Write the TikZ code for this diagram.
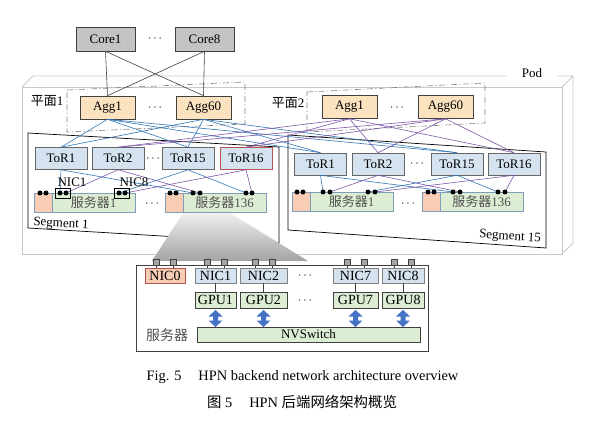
\documentclass[tikz,border=0pt]{standalone}
\usepackage{fontspec}
\setmainfont{Liberation Serif}
\newfontfamily\cjk{Noto Sans CJK SC}
\newcommand\nfs{\fontsize{13}{15}\selectfont}
\newcommand\dfs{\fontsize{14}{16}\selectfont}
\newcommand\cfs{\fontsize{14.4}{16}\selectfont}
\definecolor{corefill}{HTML}{C4C4C4}
\definecolor{aggfill}{HTML}{FBE3BF}
\definecolor{torfill}{HTML}{D5E3F0}
\definecolor{greenfill}{HTML}{DDEDD3}
\definecolor{orangefill}{HTML}{F8CDB4}
\definecolor{srvborder}{HTML}{7F9DB9}
\definecolor{blueline}{HTML}{2E75B6}
\definecolor{purpleline}{HTML}{7E57A8}
\definecolor{darkline}{HTML}{404040}
\definecolor{podline}{HTML}{C8C8C8}
\definecolor{redborder}{HTML}{B85450}
\definecolor{arrowblue}{HTML}{4472C4}
\definecolor{srvtext}{HTML}{505050}
\tikzset{
  box/.style={draw=darkline, line width=0.6pt, inner sep=0pt, font=\nfs},
  core/.style={box, fill=corefill, minimum width=59pt, minimum height=24pt},
  agg/.style={box, fill=aggfill, minimum width=55pt, minimum height=23pt},
  tor/.style={box, draw=darkline!80, fill=torfill, minimum width=52pt, minimum height=22pt},
  srvo/.style={draw=srvborder, line width=0.5pt, fill=orangefill, inner sep=0pt, minimum width=18pt, minimum height=19pt},
  srvg/.style={draw=srvborder, line width=0.5pt, fill=greenfill, inner sep=0pt, minimum width=83pt, minimum height=19pt, font=\nfs, text=srvtext},
  portdot/.style={circle, fill=black, inner sep=0pt, minimum size=5pt},
  niclbl/.style={draw=black, line width=0.6pt, inner sep=0pt, minimum width=15pt, minimum height=10pt},
  bl/.style={draw=blueline, line width=0.6pt},
  pl/.style={draw=purpleline, line width=0.6pt},
  dl/.style={draw=darkline, line width=0.6pt},
  pod/.style={draw=podline, line width=0.8pt},
  planebox/.style={draw=gray, line width=0.6pt, dash pattern=on 6pt off 2.5pt on 1pt off 2.5pt},
  segline/.style={draw=black, line width=0.7pt},
  lbl/.style={inner sep=0pt, font=\nfs},
  dnic/.style={draw=gray, line width=0.5pt, fill=torfill, inner sep=0pt, minimum height=15pt, font=\dfs},
  dgpu/.style={draw=darkline, line width=0.5pt, fill=greenfill, inner sep=0pt, minimum height=16pt, font=\dfs},
  portsq/.style={draw=darkline, line width=0.5pt, fill=gray!70, inner sep=0pt, minimum size=6pt},
}
\begin{document}
\begin{tikzpicture}[x=1pt, y=-1pt]
\useasboundingbox (0,0) rectangle (600,425);
% Pod 3D box
\draw[pod] (22,87) rectangle (562,254);
\draw[pod] (22,87) -- (33,76) -- (507,76);
\draw[pod] (557,76) -- (573,76) -- (562,87);
\draw[pod] (573,76) -- (573,243) -- (562,254);
\node[lbl] (podlbl) at (532,73) {Pod};
% planes
\draw[planebox] (67,90) -- (245,82) -- (245,124) -- (67,132) -- cycle;
\draw[planebox] (307,92) -- (485,83) -- (485,123) -- (307,132) -- cycle;
\node[lbl] (pl1) at (47,101) {{\cjk 平面}1};
\node[lbl] (pl2) at (288,103) {{\cjk 平面}2};
% segments
\draw[segline] (28,133) -- (279,147) -- (279,243) -- (28,228) -- cycle;
\draw[segline] (288,135) -- (546,152) -- (546,248) -- (288,230) -- cycle;
\node[lbl, rotate=-3.4] (seg1) at (61,224) {Segment 1};
\node[lbl, rotate=-3.8] (seg15) at (510,237) {Segment 15};
% core
\node[core] (core1) at (105.5,39) {Core1};
\node[core] (core8) at (204.5,39) {Core8};
\node[lbl] (cdots) at (155,39) {$\cdots$};
% aggs
\node[agg] (a1a) at (107.5,107.5) {Agg1};
\node[agg] (a60a) at (203.5,107.5) {Agg60};
\node[lbl] (adots1) at (155,108) {$\cdots$};
\node[agg] (a1b) at (349.5,107) {Agg1};
\node[agg] (a60b) at (445.5,107) {Agg60};
\node[lbl] (adots2) at (397,108) {$\cdots$};
% tors
\node[tor] (t1a) at (61,158.5) {ToR1};
\node[tor] (t2a) at (118,158.5) {ToR2};
\node[tor] (t15a) at (188,158.5) {ToR15};
\node[tor, draw=redborder] (t16a) at (246,158.5) {ToR16};
\node[lbl] (tdots1) at (153,159) {$\cdots$};
\node[tor] (t1b) at (320.5,164) {ToR1};
\node[tor] (t2b) at (378,164) {ToR2};
\node[tor] (t15b) at (457,164) {ToR15};
\node[tor] (t16b) at (514,164) {ToR16};
\node[lbl] (tdots2) at (417,164) {$\cdots$};
% servers
\node[srvo] (s1ao) at (43,202.5) {};
\node[srvg] (s1ag) at (93.5,202.5) {{\cjk 服务器}1};
\node[srvo] (s136ao) at (174,202.5) {};
\node[srvg] (s136ag) at (224.5,202.5) {{\cjk 服务器}136};
\node[lbl] (sdots1) at (152,204) {$\cdots$};
\node[srvo] (s1bo) at (301,202) {};
\node[srvg] (s1bg) at (351.5,202) {{\cjk 服务器}1};
\node[srvo] (s136bo) at (431,202) {};
\node[srvg] (s136bg) at (481.5,202) {{\cjk 服务器}136};
\node[lbl] (sdots2) at (408,204) {$\cdots$};
% port coordinates
\foreach \n/\x in {1/40,2/46,3/60,4/66,5/119,6/125,7/170,8/176,9/193,10/200,11/246,12/252}
  \coordinate (pa\n) at (\x,193);
\foreach \n/\x in {1/297,2/303,3/323,4/330,5/368,6/375,7/428,8/434,9/453,10/460,11/498,12/505}
  \coordinate (pb\n) at (\x,192);
% core-agg
\draw[dl] (core1.south) -- (a1a.north);
\draw[dl] (core1.south) -- (a60a.north);
\draw[dl] (core8.south) -- (a60a.north);
\draw[dl] (core8.south) -- (a1a.north);
% agg-tor
\foreach \a in {a1a,a60a}
  \foreach \t in {t1a,t15a,t1b,t15b}
    \draw[bl] (\a.south) -- (\t.north);
\foreach \a in {a1b,a60b}
  \foreach \t in {t2a,t16a,t2b,t16b}
    \draw[pl] (\a.south) -- (\t.north);
% tor-server
\draw[bl] (t1a.south) -- (pa3);  \draw[bl] (t1a.south) -- (pa9);
\draw[pl] (t2a.south) -- (pa4);  \draw[pl] (t2a.south) -- (pa10);
\draw[bl] (t15a.south) -- (pa5); \draw[bl] (t15a.south) -- (pa11);
\draw[pl] (t16a.south) -- (pa6); \draw[pl] (t16a.south) -- (pa12);
\draw[bl] (t1b.south) -- (pb3);  \draw[bl] (t1b.south) -- (pb9);
\draw[pl] (t2b.south) -- (pb4);  \draw[pl] (t2b.south) -- (pb10);
\draw[bl] (t15b.south) -- (pb5); \draw[bl] (t15b.south) -- (pb11);
\draw[pl] (t16b.south) -- (pb6); \draw[pl] (t16b.south) -- (pb12);
% nic boxes seg 1
\node[niclbl] (nic1a) at (63,193) {};
\node[niclbl] (nic8a) at (122,193) {};
\node[lbl] (nic1lbl) at (72,182) {NIC1};
\node[lbl] (nic8lbl) at (134,182) {NIC8};
% dots
\foreach \n in {1,...,12} {
  \node[portdot] (da\n) at (pa\n) {};
  \node[portdot] (db\n) at (pb\n) {};
}
% funnel
\shade[top color=gray!12, bottom color=gray!72] (183,213) -- (230,213) -- (308,261) -- (152,261) -- cycle;
% detail box
\node[draw=darkline, line width=0.6pt, fill=white, inner sep=0pt, minimum width=292pt, minimum height=86pt] (detail) at (282,308) {};
\node[dnic, draw=redborder, fill=orangefill, minimum width=40pt] (nic0) at (165,275.5) {NIC0};
\node[dnic, minimum width=41pt] (nic1) at (215.5,275.5) {NIC1};
\node[dnic, minimum width=47pt] (nic2) at (263.5,275.5) {NIC2};
\node[dnic, minimum width=45pt] (nic7) at (355.5,275.5) {NIC7};
\node[dnic, minimum width=42pt] (nic8) at (403,275.5) {NIC8};
\node[lbl] (ndots) at (305,276) {$\cdots$};
\node[dgpu, minimum width=41pt] (gpu1) at (215.5,300) {GPU1};
\node[dgpu, minimum width=47pt] (gpu2) at (263.5,300) {GPU2};
\node[dgpu, minimum width=45pt] (gpu7) at (355.5,300) {GPU7};
\node[dgpu, minimum width=42pt] (gpu8) at (403,300) {GPU8};
\node[lbl] (gdots) at (305,301) {$\cdots$};
\node[dgpu, minimum width=223pt, minimum height=15pt, font=\nfs] (nvs) at (308.5,334.5) {NVSwitch};
\node[lbl, font=\dfs, text=srvtext] (srvlbl) at (167,335) {\cjk 服务器};
\foreach \g in {1,2,7,8}
  \draw[dl, line width=0.5pt] (nic\g.south) -- (gpu\g.north);
\foreach \c in {nic0,nic1,nic2,nic7,nic8} {
  \node[portsq] (\c l) at ([xshift=-8.5pt, yshift=5.5pt]\c.north) {};
  \node[portsq] (\c r) at ([xshift=8.5pt, yshift=5.5pt]\c.north) {};
  \draw[dl, line width=0.5pt] (\c l.south) -- (\c l.south |- \c.north);
  \draw[dl, line width=0.5pt] (\c r.south) -- (\c r.south |- \c.north);
}
% double arrows between GPU and NVSwitch
\foreach \cx in {215.5,263.5,355.5,403}
  \fill[arrowblue] (\cx,310) -- (\cx+7,316.5) -- (\cx+2.5,316.5) -- (\cx+2.5,320.5) -- (\cx+7,320.5) -- (\cx,327) -- (\cx-7,320.5) -- (\cx-2.5,320.5) -- (\cx-2.5,316.5) -- (\cx-7,316.5) -- cycle;
% caption
\node[inner sep=0pt, font=\cfs] (cap1) at (302.5,377) {Fig. 5\hspace{17pt}HPN backend network architecture overview};
\node[inner sep=0pt, font=\cfs] (cap2) at (302,402) {{\cjk 图} 5\hspace{17pt}HPN {\cjk 后端网络架构概览}};
\end{tikzpicture}
\end{document}
